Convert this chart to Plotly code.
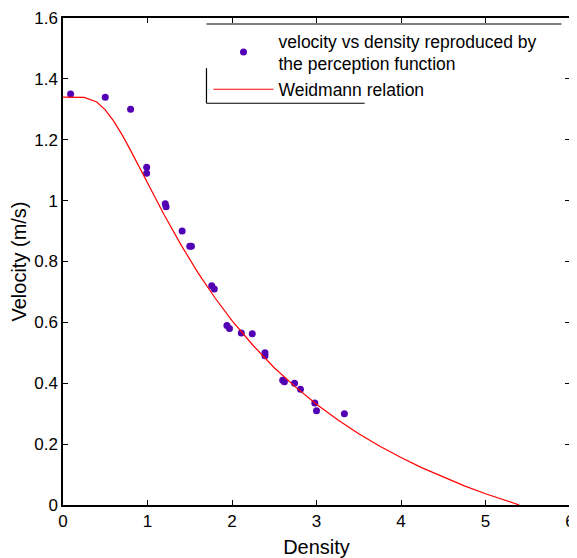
import plotly.graph_objects as go

# Scatter data: velocity vs density reproduced by the perception function
density_pts = [0.09, 0.50, 0.80, 0.99, 0.99, 1.21, 1.22, 1.41, 1.50, 1.52, 1.76, 1.79,
               1.94, 1.97, 2.11, 2.24, 2.39, 2.39, 2.60, 2.62, 2.74, 2.81, 2.98, 3.00, 3.33]
velocity_pts = [1.35, 1.34, 1.30, 1.11, 1.09, 0.99, 0.98, 0.90, 0.85, 0.85, 0.72, 0.71,
                0.59, 0.58, 0.565, 0.563, 0.50, 0.49, 0.41, 0.405, 0.40, 0.38, 0.335, 0.31, 0.30]

# Weidmann relation curve
weid_density = [0.0, 0.10, 0.25, 0.40, 0.50, 0.60, 0.70, 0.80, 0.90, 1.00, 1.20, 1.40,
                1.60, 1.80, 2.00, 2.25, 2.50, 2.75, 3.00, 3.25, 3.50, 3.75, 4.00, 4.25,
                4.50, 4.75, 5.00, 5.20, 5.40]
weid_velocity = [1.34, 1.34, 1.339, 1.324, 1.298, 1.261, 1.216, 1.165, 1.112, 1.058, 0.952, 0.853,
                 0.762, 0.680, 0.606, 0.524, 0.451, 0.388, 0.331, 0.280, 0.234, 0.193, 0.156, 0.122,
                 0.092, 0.063, 0.037, 0.018, 0.0]

x_ticks = [0, 1, 2, 3, 4, 5, 6]
y_ticks = [0, 0.2, 0.4, 0.6, 0.8, 1.0, 1.2, 1.4, 1.6]
y_tick_text = ["0", "0.2", "0.4", "0.6", "0.8", "1", "1.2", "1.4", "1.6"]

FONT = "Liberation Sans, Arial, sans-serif"

fig = go.Figure()
fig.add_trace(go.Scatter(
    x=density_pts, y=velocity_pts, mode="markers",
    name="velocity vs density reproduced by<br>the perception function",
    marker=dict(color="#5200b4", size=7, line=dict(width=0)),
))
fig.add_trace(go.Scatter(
    x=weid_density, y=weid_velocity, mode="lines",
    name="Weidmann relation",
    line=dict(color="#ff0000", width=1.2),
))

axis_common = dict(
    showline=True, linecolor="black", linewidth=1.5, mirror="ticks",
    ticks="inside", ticklen=5, tickwidth=1, tickcolor="black",
    showgrid=False, zeroline=False, automargin=False,
    ticklabeloverflow="allow",
    tickfont=dict(family=FONT, size=17, color="black"),
)

fig.update_layout(
    width=569, height=550,
    margin=dict(l=55, r=7, t=10, b=53, autoexpand=False),
    paper_bgcolor="white", plot_bgcolor="white",
    font=dict(family=FONT, color="black"),
    xaxis=dict(range=[0, 6], tickvals=x_ticks, ticktext=[str(v) for v in x_ticks],
               title=dict(text="Density", font=dict(size=20), standoff=11), **axis_common),
    yaxis=dict(range=[0, 1.6], tickvals=y_ticks, ticktext=y_tick_text,
               title=dict(text="Velocity (m/s)", font=dict(size=20), standoff=4), **axis_common),
    legend=dict(x=0.287, y=0.99, xanchor="left", yanchor="top",
                bgcolor="rgba(0,0,0,0)", borderwidth=0,
                font=dict(size=17.5, family=FONT),
                itemwidth=60, tracegroupgap=0),
    showlegend=True,
)

# partial legend frame lines
frame = dict(type="line", xref="paper", yref="paper", line=dict(color="black", width=1.2))
fig.add_shape(x0=0.283, x1=0.983, y0=0.9877, y1=0.9877, **frame)
fig.add_shape(x0=0.283, x1=0.283, y0=0.897, y1=0.825, **frame)
fig.add_shape(x0=0.283, x1=0.595, y0=0.825, y1=0.825, **frame)

fig.write_html("out.html")
